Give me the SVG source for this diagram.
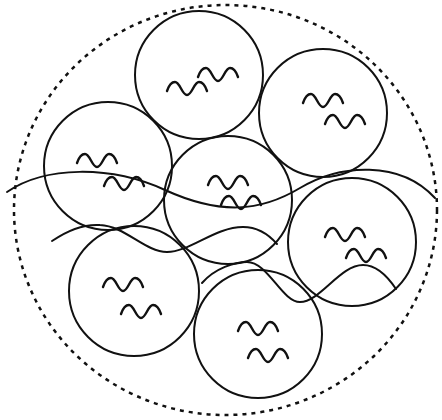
<svg xmlns="http://www.w3.org/2000/svg" width="442" height="420" viewBox="0 0 442 420">
<defs>
<style>
.c{fill:none;stroke:#111;stroke-width:2}
.w{fill:none;stroke:#111;stroke-width:2;stroke-linecap:round}
.s{fill:none;stroke:#111;stroke-width:2.4;stroke-linecap:round}
.d{fill:none;stroke:#111;stroke-width:2.5;stroke-dasharray:4 5}
</style>
<path id="sq" class="s" d="M0,9 C2,3 5,0 8,0 C13,0 15,13 20,13 C25,13 27,0 32,0 C35,0 38,3 40,9"/>
</defs>
<rect width="442" height="420" fill="#fff"/>
<ellipse class="d" cx="225.5" cy="210" rx="211.5" ry="205"/>
<g id="n1"><circle class="c" cx="199" cy="75" r="64"/><use href="#sq" x="167" y="82"/><use href="#sq" x="198" y="68"/></g>
<g id="n2"><circle class="c" cx="323" cy="113" r="64"/><use href="#sq" x="303" y="94"/><use href="#sq" x="325" y="115"/></g>
<g id="n3"><circle class="c" cx="108" cy="166" r="64"/><use href="#sq" x="77" y="154"/><use href="#sq" x="104" y="177"/></g>
<g id="n4"><circle class="c" cx="228" cy="200" r="64"/><use href="#sq" x="208" y="176"/><use href="#sq" x="221" y="196"/></g>
<g id="n5"><circle class="c" cx="352" cy="242" r="64"/><use href="#sq" x="325" y="228"/><use href="#sq" x="346" y="249"/></g>
<g id="n6"><circle class="c" cx="134" cy="291" r="65"/><use href="#sq" x="103" y="278"/><use href="#sq" x="121" y="305"/></g>
<g id="n7"><circle class="c" cx="258" cy="334" r="64"/><use href="#sq" x="238" y="322"/><use href="#sq" x="248" y="349"/></g>
<g id="connectors">
<path class="w" d="M7,192 C45,166 110,165 165,190 S260,212 300,188 S400,160 435,198"/>
<path class="w" d="M52,241 C68,230 85,224 100,225 C125,226 145,252 167,252 C190,252 215,227 243,227 C258,227 270,236 277,244"/>
<path class="w" d="M202,283 C215,268 235,262 247,262 C268,262 282,302 300,302 C320,302 340,265 363,265 C378,265 390,280 396,289"/>
</g>
</svg>
